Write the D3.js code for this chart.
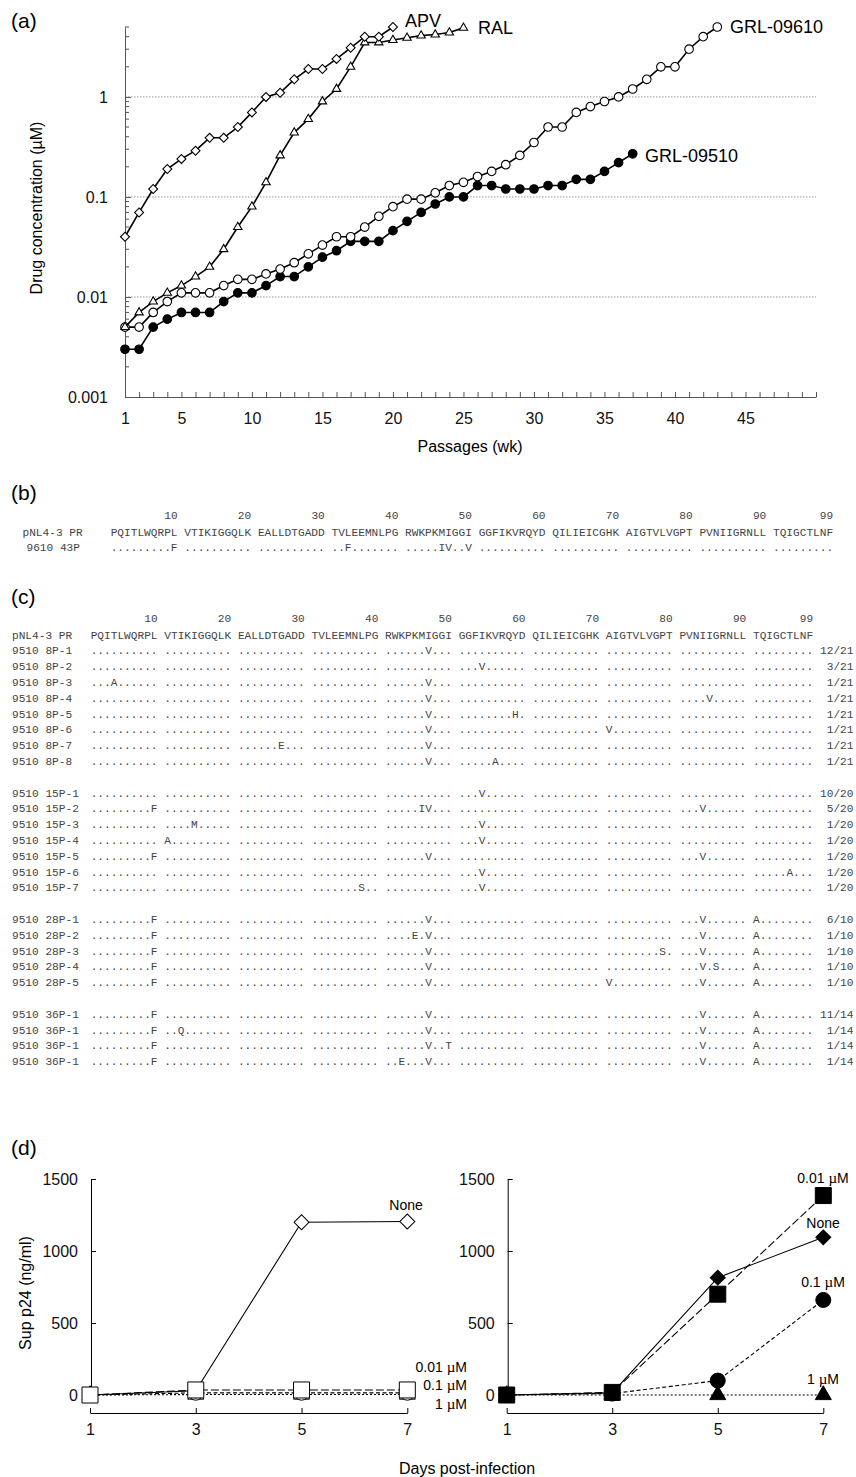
<!DOCTYPE html>
<html><head><meta charset="utf-8">
<script src="https://cdn.jsdelivr.net/npm/d3@7"></script>
<style>
body{margin:0;background:#fff;}
svg{display:block;}
</style></head><body>
<svg id="fig" width="856" height="1477"></svg>
<script>
// ===================== DATA =====================
// (a) drug concentration (µM) per passage (week 1..n)
const apv      = [0.04,0.07,0.12,0.19,0.24,0.29,0.39,0.39,0.5,0.7,1.0,1.1,1.5,1.9,1.9,2.4,3.1,4.0,4.0,5.0];
const ral      = [0.005,0.007,0.009,0.011,0.013,0.016,0.02,0.03,0.05,0.08,0.14,0.26,0.44,0.6,0.9,1.2,2.0,3.5,3.5,3.7,3.9,4.1,4.2,4.4,4.9];
const grl09610 = [0.005,0.005,0.007,0.009,0.011,0.011,0.011,0.013,0.015,0.015,0.017,0.019,0.022,0.027,0.033,0.04,0.04,0.05,0.064,0.08,0.095,0.095,0.11,0.13,0.14,0.16,0.18,0.21,0.26,0.35,0.5,0.5,0.7,0.8,0.9,1.0,1.2,1.5,2.0,2.0,3.0,4.0,5.0];
const grl09510 = [0.003,0.003,0.005,0.006,0.007,0.007,0.007,0.009,0.011,0.011,0.013,0.016,0.016,0.02,0.025,0.029,0.036,0.036,0.036,0.046,0.057,0.07,0.085,0.1,0.1,0.13,0.13,0.12,0.12,0.12,0.13,0.13,0.15,0.15,0.18,0.22,0.27];
const yTicksA = [0.001,0.01,0.1,1];
const yTickLabelsA = ["0.001","0.01","0.1","1"];
const gridA = [0.01,0.1,1];
const xTickLabelsA = [1,5,10,15,20,25,30,35,40,45];
const seriesNamesA = ["APV","RAL","GRL-09610","GRL-09510"];

// (b)/(c) sequences
const refSeq = "PQITLWQRPL VTIKIGGQLK EALLDTGADD TVLEEMNLPG RWKPKMIGGI GGFIKVRQYD QILIEICGHK AIGTVLVGPT PVNIIGRNLL TQIGCTLNF";
const residueNumbers = [10,20,30,40,50,60,70,80,90,99];
const bLabels = ["pNL4-3 PR","9610 43P"];
const bSeqs = [refSeq,
 ".........F .......... .......... ..F....... .....IV..V .......... .......... .......... .......... ........."];

const cLabels = ["pNL4-3 PR",
 "9510 8P-1","9510 8P-2","9510 8P-3","9510 8P-4","9510 8P-5","9510 8P-6","9510 8P-7","9510 8P-8",
 "9510 15P-1","9510 15P-2","9510 15P-3","9510 15P-4","9510 15P-5","9510 15P-6","9510 15P-7",
 "9510 28P-1","9510 28P-2","9510 28P-3","9510 28P-4","9510 28P-5",
 "9510 36P-1","9510 36P-1","9510 36P-1","9510 36P-1"];
const cBlock = [0, 0,0,0,0,0,0,0,0, 1,1,1,1,1,1,1, 2,2,2,2,2, 3,3,3,3];
const cSeqs = [refSeq,
 ".......... .......... .......... .......... ......V... .......... .......... .......... .......... .........",
 ".......... .......... .......... .......... .......... ...V...... .......... .......... .......... .........",
 "...A...... .......... .......... .......... ......V... .......... .......... .......... .......... .........",
 ".......... .......... .......... .......... ......V... .......... .......... .......... ....V..... .........",
 ".......... .......... .......... .......... ......V... ........H. .......... .......... .......... .........",
 ".......... .......... .......... .......... ......V... .......... .......... V......... .......... .........",
 ".......... .......... ......E... .......... ......V... .......... .......... .......... .......... .........",
 ".......... .......... .......... .......... ......V... .....A.... .......... .......... .......... .........",
 ".......... .......... .......... .......... .......... ...V...... .......... .......... .......... .........",
 ".........F .......... .......... .......... .....IV... .......... .......... .......... ...V...... .........",
 ".......... ....M..... .......... .......... .......... ...V...... .......... .......... .......... .........",
 ".......... A......... .......... .......... .......... ...V...... .......... .......... .......... .........",
 ".........F .......... .......... .......... ......V... .......... .......... .......... ...V...... .........",
 ".......... .......... .......... .......... .......... ...V...... .......... .......... .......... .....A...",
 ".......... .......... .......... .......S.. .......... ...V...... .......... .......... .......... .........",
 ".........F .......... .......... .......... ......V... .......... .......... .......... ...V...... A........",
 ".........F .......... .......... .......... ....E.V... .......... .......... .......... ...V...... A........",
 ".........F .......... .......... .......... ......V... .......... .......... ........S. ...V...... A........",
 ".........F .......... .......... .......... ......V... .......... .......... .......... ...V.S.... A........",
 ".........F .......... .......... .......... ......V... .......... .......... V......... ...V...... A........",
 ".........F .......... .......... .......... ......V... .......... .......... .......... ...V...... A........",
 ".........F ..Q....... .......... .......... ......V... .......... .......... .......... ...V...... A........",
 ".........F .......... .......... .......... ......V..T .......... .......... .......... ...V...... A........",
 ".........F .......... .......... .......... ..E...V... .......... .......... .......... ...V...... A........"];
const cFracs = ["",
 "12/21","3/21","1/21","1/21","1/21","1/21","1/21","1/21",
 "10/20","5/20","1/20","1/20","1/20","1/20","1/20",
 "6/10","1/10","1/10","1/10","1/10",
 "11/14","1/14","1/14","1/14"];

// (d) supernatant p24 (ng/ml)
const days = [1,3,5,7];
const dxTicks = [1,3,5,7];
const dyTicks = [0,500,1000,1500];
const leftNone = [0,30,1200,1205];
const left001  = [0,35,35,35];
const left01   = [0,15,15,15];
const left1    = [0,3,3,3];
const rightNone = [0,15,815,1095];
const right001  = [0,18,700,1385];
const right01   = [0,10,100,660];
const right1    = [0,0,0,0];
const concLabels = ["None","0.01 ","0.1 ","1 "];

// ===================== DRAW =====================
const FONT = '"Liberation Sans", Arial, Helvetica, sans-serif';
const MONO = '"Liberation Mono", "Courier New", monospace';
const svg = d3.select("#fig");

function styleAxis(g, col, fs){
  g.attr("font-family", FONT).attr("font-size", fs);
  g.selectAll("path.domain").attr("stroke", col);
  g.selectAll(".tick line").attr("stroke", col);
  g.selectAll(".tick text").attr("fill", "#111");
}

// ---------- (a) ----------
const A = svg.append("g").attr("font-family", FONT);
A.append("text").attr("x", 11).attr("y", 28).attr("font-size", 21).text("(a)");
const xA = d3.scaleLinear().domain([1,50]).range([125,816]);
const yA = d3.scaleLog().domain([0.001,5]).range([397,27]);

A.append("g").selectAll("line").data(gridA).join("line")
  .attr("x1", xA(1)).attr("x2", xA(50))
  .attr("y1", d => yA(d)).attr("y2", d => yA(d))
  .attr("stroke", "#999").attr("stroke-width", 1).attr("stroke-dasharray", "1.5,1.5");

const yAxA = A.append("g").attr("transform", `translate(${xA(1)},0)`)
  .call(d3.axisLeft(yA).tickValues(yTicksA).tickFormat((d,i) => yTickLabelsA[i])
        .tickSize(-6).tickSizeOuter(0).tickPadding(17));
styleAxis(yAxA, "#555", 16);
const minorA = [];
yTicksA.forEach(dec => { for (let m = 2; m <= 9; m++) { const v = m * dec; if (v <= 5.0001) minorA.push(v); } });
A.append("g").selectAll("line").data(minorA).join("line")
  .attr("x1", xA(1)).attr("x2", xA(1) + 4)
  .attr("y1", d => yA(d)).attr("y2", d => yA(d)).attr("stroke", "#555");

const xAxA = A.append("g").attr("transform", `translate(0,${yA(0.001)})`)
  .call(d3.axisBottom(xA).tickValues(d3.range(1,51))
        .tickFormat(d => xTickLabelsA.includes(d) ? d : "")
        .tickSize(-5).tickSizeOuter(0).tickPadding(16));
styleAxis(xAxA, "#555", 16);

A.append("text").attr("x", 470).attr("y", 452).attr("text-anchor", "middle").attr("font-size", 16).text("Passages (wk)");
A.append("text").attr("transform", "translate(42,208) rotate(-90)").attr("text-anchor", "middle").attr("font-size", 16)
  .text("Drug concentration (µM)");

const lineA = d3.line().x(d => xA(d[0])).y(d => yA(d[1]));
function drawSeriesA(vals, symType, size, rot, filled){
  const pts = vals.map((v,i) => [i+1, v]);
  A.append("path").datum(pts).attr("d", lineA).attr("fill", "none").attr("stroke", "#000").attr("stroke-width", 1.6);
  A.append("g").selectAll("path").data(pts).join("path")
    .attr("transform", d => `translate(${xA(d[0])},${yA(d[1])}) rotate(${rot})`)
    .attr("d", d3.symbol(symType, size))
    .attr("fill", filled ? "#000" : "#fff").attr("stroke", "#000").attr("stroke-width", 1.1);
}
drawSeriesA(grl09510, d3.symbolCircle, 58, 0, true);
drawSeriesA(grl09610, d3.symbolCircle, 58, 0, false);
drawSeriesA(ral, d3.symbolTriangle, 30, 0, false);
drawSeriesA(apv, d3.symbolSquare, 40, 45, false);

const labA = [[apv, 405, 26.5], [ral, 478, 34], [grl09610, 730, 33], [grl09510, 645, 161.5]];
labA.forEach((l,i) => A.append("text").attr("x", l[1]).attr("y", l[2]).attr("font-size", 18).text(seriesNamesA[i]));

// ---------- (b) & (c) ----------
const CW = 6.69, MFS = 11.15, SEQC = "#444";
function colOf(n){ return (n-1) + Math.floor((n-1)/10); }
function numberRow(g, x0, y){
  g.append("g").selectAll("text").data(residueNumbers).join("text")
    .attr("x", d => x0 + (colOf(d)+1)*CW).attr("y", y).attr("text-anchor", "end").text(d => d);
}
function seqText(g, x0, y, s){
  g.append("g").selectAll("text").data(s.split(" ")).join("text")
    .attr("x", (d,i) => x0 + i*11*CW).attr("y", y).text(d => d);
}

const B = svg.append("g").attr("font-family", MONO).attr("font-size", MFS).attr("fill", SEQC);
svg.append("text").attr("x", 11).attr("y", 500).attr("font-family", FONT).attr("font-size", 21).text("(b)");
const xb0 = 110.7;
numberRow(B, xb0, 518.5);
bLabels.forEach((lab,i) => {
  const y = 535.5 + i*15.3;
  B.append("text").attr("x", i === 0 ? 22.5 : 26.5).attr("y", y).text(lab);
  seqText(B, xb0, y, bSeqs[i]);
});

const C = svg.append("g").attr("font-family", MONO).attr("font-size", MFS).attr("fill", SEQC);
svg.append("text").attr("x", 11).attr("y", 604).attr("font-family", FONT).attr("font-size", 21).text("(c)");
const xc0 = 90.7, RH = 15.8;
numberRow(C, xc0, 622);
cLabels.forEach((lab,i) => {
  const y = 638.5 + (i + cBlock[i]) * RH;
  C.append("text").attr("x", 12).attr("y", y).text(lab);
  seqText(C, xc0, y, cSeqs[i]);
  if (cFracs[i]) C.append("text").attr("x", 853.5).attr("y", y).attr("text-anchor", "end").text(cFracs[i]);
});

// ---------- (d) ----------
const D = svg.append("g").attr("font-family", FONT);
D.append("text").attr("x", 11).attr("y", 1155).attr("font-size", 21).text("(d)");
const yD = d3.scaleLinear().domain([0,1500]).range([1395,1179]);
const xDL = d3.scaleLinear().domain([1,7]).range([90,407.3]);
const xDR = d3.scaleLinear().domain([1,7]).range([506.7,823.3]);
const XAXY = 1413;

[xDL, xDR].forEach(xs => {
  const gy = D.append("g").attr("transform", `translate(${xs(1)+1},0)`)
    .call(d3.axisLeft(yD).tickValues(dyTicks).tickFormat(d3.format("d")).tickSize(-5).tickSizeOuter(0).tickPadding(13));
  styleAxis(gy, "#000", 16);
  const gx = D.append("g").attr("transform", `translate(0,${XAXY})`)
    .call(d3.axisBottom(xs).tickValues(dxTicks).tickFormat(d3.format("d")).tickSize(-5).tickSizeOuter(0).tickPadding(11));
  styleAxis(gx, "#000", 16);
});
D.append("text").attr("transform", "translate(31,1293) rotate(-90)").attr("text-anchor", "middle").attr("font-size", 16).text("Sup p24 (ng/ml)");
D.append("text").attr("x", 467).attr("y", 1474).attr("text-anchor", "middle").attr("font-size", 16).text("Days post-infection");

function dLine(xs, vals, dash){
  D.append("path").datum(vals.map((v,i) => [days[i], v]))
    .attr("d", d3.line().x(d => xs(d[0])).y(d => yD(d[1])))
    .attr("fill", "none").attr("stroke", "#000").attr("stroke-width", 1.1)
    .attr("stroke-dasharray", dash);
}
function dMarks(xs, vals, symType, size, rot, filled){
  D.append("g").selectAll("path").data(vals.map((v,i) => [days[i], v])).join("path")
    .attr("transform", d => `translate(${xs(d[0])},${yD(d[1])}) rotate(${rot})`)
    .attr("d", d3.symbol(symType, size))
    .attr("fill", filled ? "#000" : "#fff").attr("stroke", "#000").attr("stroke-width", 1);
}
// left panel (open symbols)
dLine(xDL, left1, "2,2");
dLine(xDL, left01, "4,2.5");
dLine(xDL, left001, "8,3");
dLine(xDL, leftNone, null);
dMarks(xDL, left1, d3.symbolTriangle, 111, 0, false);
dMarks(xDL, left01, d3.symbolCircle, 170, 0, false);
dMarks(xDL, leftNone, d3.symbolSquare, 112, 45, false);
dMarks(xDL, left001, d3.symbolSquare, 256, 0, false);
// right panel (filled symbols)
dLine(xDR, right1, "2,2");
dLine(xDR, right01, "4,2.5");
dLine(xDR, right001, "8,3");
dLine(xDR, rightNone, null);
dMarks(xDR, right1, d3.symbolTriangle, 111, 0, true);
dMarks(xDR, right01, d3.symbolCircle, 177, 0, true);
dMarks(xDR, rightNone, d3.symbolSquare, 112, 45, true);
dMarks(xDR, right001, d3.symbolSquare, 256, 0, true);

function concLabel(x, y, anchor, idx){
  const t = D.append("text").attr("x", x).attr("y", y).attr("text-anchor", anchor).attr("font-size", 14);
  t.append("tspan").text(concLabels[idx]);
  if (idx > 0) {
    t.append("tspan").attr("font-family", '"Liberation Serif", "Times New Roman", serif').attr("font-size", 15).text("µ");
    t.append("tspan").text("M");
  }
}
concLabel(406, 1210, "middle", 0);
concLabel(467, 1372, "end", 1);
concLabel(467, 1390, "end", 2);
concLabel(467, 1408.5, "end", 3);
concLabel(823, 1183, "middle", 1);
concLabel(823, 1228, "middle", 0);
concLabel(823, 1287, "middle", 2);
concLabel(823, 1384, "middle", 3);
</script>
</body></html>
